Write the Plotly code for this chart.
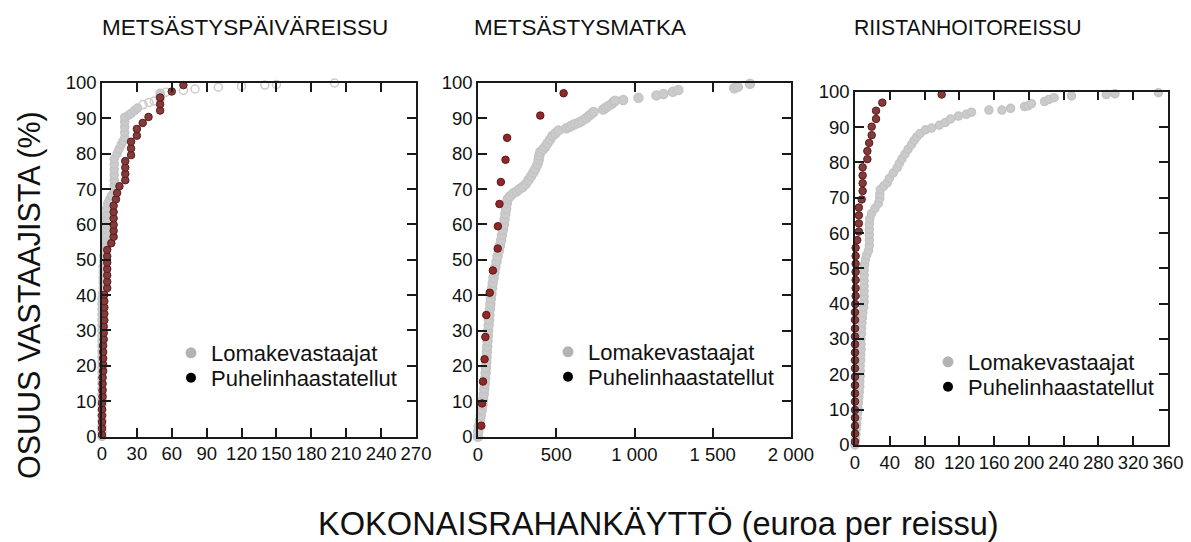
import plotly.graph_objects as go

FONT = "Liberation Sans, Arial, sans-serif"

# ---------------- DATA ----------------
panel_titles = ["METSÄSTYSPÄIVÄREISSU", "METSÄSTYSMATKA", "RIISTANHOITOREISSU"]
series_names = ["Lomakevastaajat", "Puhelinhaastatellut"]
y_title = "OSUUS VASTAAJISTA (%)"
x_title = "KOKONAISRAHANKÄYTTÖ (euroa per reissu)"

# Panel 1: METSÄSTYSPÄIVÄREISSU
p1_gray_x = [0, 0, 0, 0, 0, 0, 0, 0, 0, 0, 0, 0, 0, 0, 0, 0, 0, 0, 0, 0, 0, 0, 0, 0, 0, 0, 0,
             0.5, 1, 1, 1, 1, 1, 1.5, 1.5, 2, 3.5, 3.5, 3.5, 3.5, 3.5, 3.5, 4, 4, 5, 6.5, 8,
             10.5, 10.5, 10.5, 10.5, 10.5, 10.5, 10.5, 13, 14.7, 16.5, 18, 19.5, 19.5, 19.5, 19.5, 19.5,
             23, 25, 28, 30.5, 35.3, 40.4, 45, 50, 50, 50, 55, 70, 80, 100, 120, 140, 150, 200]
p1_gray_y = [0, 1.5, 3, 4.5, 6, 7.5, 9, 10.5, 12, 13.5, 15, 16.5, 18, 19.5, 21, 22.5, 24, 25.5, 27,
             28.5, 30, 31.5, 33, 34.5, 36, 37.5, 39,
             40.5, 42, 43.5, 45, 46.5, 48, 49.5, 51, 52.5, 54, 55.5, 57, 58.5, 60, 61.5, 63, 64.5, 66, 67, 68,
             69.5, 71, 72.5, 74, 75.5, 77, 78.5, 80, 81.3, 82.5, 83.5, 84.5, 86, 87.5, 89, 90.3,
             90.9, 91.4, 92.2, 92.9, 93.9, 94.5, 94.9, 95.5, 96.3, 97.1, 97.4, 97.9, 98.3, 98.8, 99.1, 99.4, 99.6, 100]
p1_gray_open_x = [35.3, 40.4, 45, 55, 70, 80, 100, 120, 140, 150, 200]

p1_red_x = [0, 0, 0, 0, 0, 0, 0.5, 0.5, 0.5, 0.5, 1, 1, 1, 1, 1, 1.5, 1.5, 1.5, 2, 2, 2, 2, 2,
            4.5, 4.5, 4.5, 4.5, 4.5, 4.5, 4.5, 8, 10, 10, 10, 10, 10, 10, 12, 13, 15,
            20, 20, 20, 20, 25, 25, 25, 30, 30, 35, 40, 50, 50, 50, 60, 70]
p1_red_y = [0.5, 2.3, 4.1, 5.9, 7.7, 9.5, 11.3, 13.1, 14.9, 16.7, 18.5, 20.3, 22.1, 23.9, 25.7,
            27.5, 29.3, 31.1, 32.9, 34.7, 36.5, 38.3, 40.1,
            42.0, 43.8, 45.6, 47.4, 49.2, 51.0, 52.8, 54.7, 56.5, 58.2, 59.9, 61.7, 63.5, 65.3,
            67.1, 68.9, 70.8, 72.5, 74.3, 76.1, 77.9, 79.6, 81.5, 83.4, 85.1, 87.0, 88.7, 90.4,
            92.2, 94.0, 95.9, 97.6, 99.4]

# Panel 2: METSÄSTYSMATKA
p2_gray_x = [0, 2, 5, 12, 18, 24, 29, 33, 37, 40, 43, 46, 49, 51, 53, 55, 57, 59, 61, 63, 65, 68, 71,
             73, 76, 79, 82, 86, 90, 94, 99, 105, 111, 118, 125, 133, 140, 147, 153, 159, 165, 170,
             175, 180, 185, 190, 205, 225, 245, 265, 285, 305, 322, 338, 352, 366, 380, 388, 392, 398,
             415, 430, 445, 460, 475, 495, 515, 565, 585, 600, 620, 645, 665, 690, 708, 722, 738, 800,
             815, 835, 855, 868, 876, 928, 1025, 1140, 1185, 1245, 1280, 1637, 1660, 1738]
p2_gray_y = [0, 1.5, 3, 4.5, 6, 7.5, 9, 10.5, 12, 13.5, 15, 16.5, 18, 19.5, 21, 22.5, 24, 25.5, 27,
             28.5, 30, 31.5, 33, 34.5, 36, 37.5, 39, 40.5, 42, 43.5, 45, 46.5, 48, 49.5, 51, 52.5, 54,
             55.5, 57, 58.5, 60, 61.5, 63, 64.5, 66, 67.2, 68, 68.8, 69.3, 70, 70.6, 71.4, 72.5, 73.6,
             74.6, 75.7, 77, 78.3, 79.5, 80.5, 81.2, 82, 83, 84, 85, 85.8, 86.6, 87.2, 87.6, 88, 88.4,
             88.8, 89.3, 90, 90.7, 91.2, 91.8, 92.5, 93, 93.6, 94.1, 94.7, 95, 95.2, 95.8, 96.5, 96.9,
             97.5, 98, 98.5, 98.9, 99.8]
p2_red_x = [21, 26, 32, 42, 47, 53, 75, 95, 126, 127, 137, 146, 176, 186, 398, 547]
p2_red_y = [3.1, 9.4, 15.6, 21.9, 28.2, 34.4, 40.7, 47.0, 53.2, 59.5, 65.8, 72.0, 78.3, 84.5, 90.8, 97.1]

# Panel 3: RIISTANHOITOREISSU
p3_gray_x = [0, 0.5, 1, 1.5, 2, 2.5, 3, 3.5, 4, 4.5, 5, 5.5, 5.5, 6, 6, 6, 6.5, 6.5, 7, 7, 7, 7.5,
             7.5, 8, 8.5, 9, 10, 10.5, 10.5, 10.5, 10.5, 10.5, 10.5, 10.5, 11, 12, 13.5, 15.5, 16.5,
             16.5, 16.5, 16.5, 16.5, 17, 19, 23, 27, 28.5, 28.5, 29, 33, 37, 39.5, 44, 48.5, 51, 54,
             57.5, 61, 65, 68, 71, 75, 81, 88, 97, 104, 110, 119, 128, 134, 154, 169, 179, 195, 199,
             203, 218, 223, 229, 249, 289, 299, 349]
p3_gray_y = [0, 1.5, 3, 4.5, 6, 7.5, 9, 10.5, 12, 13.5, 15, 16.5, 18, 19.5, 21, 22.5, 24, 25.5, 27,
             28.5, 30, 31.5, 33, 34.5, 36, 37.5, 39, 40.5, 42, 43.5, 45, 46.5, 48, 49.5, 51, 52.5,
             53.8, 55, 56.5, 58, 59.5, 61, 62.5, 64, 65.5, 67, 68.4, 69.8, 71, 72.3, 73.3, 74.2, 75.5,
             77, 78.5, 79.7, 81, 82.3, 83.7, 85, 86.2, 87.2, 88.2, 89.2, 89.7, 90.5, 91.3, 92.3, 93.1,
             93.6, 94.2, 94.8, 94.8, 95.3, 95.8, 96, 96.6, 97.2, 97.8, 98.3, 98.8, 99.2, 99.4, 99.7, 100]
p3_red_x = [0, 0, 0, 0, 0, 0, 0, 0, 0, 0, 0, 0, 0, 0, 0, 0, 0, 0.3, 0.7, 0.7, 0.7, 0.7, 0.7, 0.7,
            0.7, 2.5, 4.4, 4.4, 4.4, 4.4, 7.7, 8.8, 8.8, 8.8, 8.8, 14.2, 14.2, 16.3, 19.2, 19.2,
            24.2, 24.2, 31.4, 99.7]
p3_red_y = [0.9, 3.2, 5.4, 7.7, 9.9, 12.3, 14.6, 16.9, 19.3, 21.7, 24.0, 26.2, 28.5, 30.7, 33.0,
            35.4, 37.6, 39.9, 42.2, 44.4, 46.7, 49.0, 51.3, 53.5, 55.8, 58.0, 60.4, 62.7, 65.0,
            67.2, 69.5, 71.9, 74.1, 76.3, 78.6, 80.9, 83.2, 85.5, 87.7, 90.1, 92.3, 94.6, 96.9, 99.2]

x_ticks = [
    ([0, 30, 60, 90, 120, 150, 180, 210, 240, 270], ["0", "30", "60", "90", "120", "150", "180", "210", "240", "270"]),
    ([0, 500, 1000, 1500, 2000], ["0", "500", "1 000", "1 500", "2 000"]),
    ([0, 40, 80, 120, 160, 200, 240, 280, 320, 360], ["0", "40", "80", "120", "160", "200", "240", "280", "320", "360"]),
]
y_ticks = [0, 10, 20, 30, 40, 50, 60, 70, 80, 90, 100]

# ---------------- STYLE / LAYOUT ----------------
W, H = 1191, 542
GRAY = "#cbcbcb"
RED = "#843a3a"
RED_LINE = "#5c1c1c"
RED2 = "#8a2a2a"
RED2_LINE = "#6a1212"

# plot-area boxes in pixels: (left, right, top, bottom)
boxes = [(102, 416, 83, 436.5), (478, 791, 83, 436.7), (855, 1168, 91.7, 445)]
# legend text start x and the two row centres (pixels)
legend_rows = [(171, 353, 378), (548, 352, 377), (928, 362, 387)]
title_x = [100, 472, 852]
title_size = [22.5, 22.5, 21.2]

fig = go.Figure()

gray_sets = [(p1_gray_x, p1_gray_y, 8), (p2_gray_x, p2_gray_y, 9), (p3_gray_x, p3_gray_y, 8)]
red_sets = [(p1_red_x, p1_red_y, RED, RED_LINE), (p2_red_x, p2_red_y, RED2, RED2_LINE),
            (p3_red_x, p3_red_y, RED, RED_LINE)]

layout = dict(
    width=W, height=H,
    margin=dict(l=0, r=0, t=0, b=0, autoexpand=False),
    paper_bgcolor="white", plot_bgcolor="white",
    font=dict(family=FONT, color="#111111"),
)

for i in range(3):
    ax = "" if i == 0 else str(i + 1)
    gx, gy, gsize = gray_sets[i]
    if i == 0:
        symbols = ["circle-open" if x in p1_gray_open_x else "circle" for x in gx]
    else:
        symbols = "circle"
    fig.add_trace(go.Scatter(
        x=gx, y=gy, mode="markers", showlegend=False, cliponaxis=False,
        marker=dict(color=GRAY, size=gsize, symbol=symbols, line=dict(color="#c4c4c4", width=1.5)),
        xaxis="x" + ax, yaxis="y" + ax))
    rx, ry, rc, rl = red_sets[i]
    fig.add_trace(go.Scatter(
        x=rx, y=ry, mode="markers", showlegend=False, cliponaxis=False,
        marker=dict(color=rc, size=7.5, line=dict(color=rl, width=1)),
        xaxis="x" + ax, yaxis="y" + ax))

    lx, ry1, ry2 = legend_rows[i]
    leg_a = "legend" + ("" if i == 0 else str(2 * i + 1))
    leg_b = "legend" + str(2 * i + 2)
    fig.add_trace(go.Scatter(
        x=[None], y=[None], mode="markers", name=series_names[0], legend=leg_a,
        marker=dict(color="#b3b3b3", size=11), xaxis="x" + ax, yaxis="y" + ax))
    fig.add_trace(go.Scatter(
        x=[None], y=[None], mode="markers", name=series_names[1], legend=leg_b,
        marker=dict(color="#000000", size=10), xaxis="x" + ax, yaxis="y" + ax))
    for name, yy in ((leg_a, ry1), (leg_b, ry2)):
        layout[name] = dict(
            x=lx / W, y=1 - yy / H, xanchor="left", yanchor="middle", bgcolor="rgba(0,0,0,0)",
            font=dict(family=FONT, size=22, color="#111111"), itemwidth=30)

for i in range(3):
    l, r, t, b = boxes[i]
    axis_common = dict(
        showline=True, linecolor="#1a1a1a", linewidth=1.5, mirror="ticks",
        ticks="inside", ticklen=9, tickwidth=1.5, tickcolor="#1a1a1a",
        showgrid=False, zeroline=False, automargin=False,
        tickfont=dict(family=FONT, size=18.5, color="#111111"),
    )
    xa = dict(axis_common, domain=[l / W, r / W], range=[x_ticks[i][0][0], x_ticks[i][0][-1]],
              tickvals=x_ticks[i][0], ticktext=x_ticks[i][1], anchor="y" if i == 0 else "y" + str(i + 1))
    ya = dict(axis_common, domain=[1 - b / H, 1 - t / H], range=[0, 100], tickvals=y_ticks,
              anchor="x" if i == 0 else "x" + str(i + 1))
    sfx = "" if i == 0 else str(i + 1)
    layout["xaxis" + sfx] = xa
    layout["yaxis" + sfx] = ya

annotations = []
for i in range(3):
    annotations.append(dict(
        text=panel_titles[i], xref="paper", yref="paper", x=title_x[i] / W, y=1 - 28 / H,
        xanchor="left", yanchor="middle", showarrow=False,
        font=dict(family=FONT, size=title_size[i], color="#111111")))
annotations.append(dict(
    text=y_title, xref="paper", yref="paper", x=29 / W, y=1 - 295 / H, textangle=-90,
    xanchor="center", yanchor="middle", showarrow=False,
    font=dict(family=FONT, size=30.5, color="#111111")))
annotations.append(dict(
    text=x_title, xref="paper", yref="paper", x=658 / W, y=1 - 523 / H,
    xanchor="center", yanchor="middle", showarrow=False,
    font=dict(family=FONT, size=32.6, color="#111111")))
layout["annotations"] = annotations

fig.update_layout(**layout)
fig.write_html("out.html", config={"displayModeBar": False},
               post_script="document.body.style.margin='0';document.body.style.overflow='hidden';")
